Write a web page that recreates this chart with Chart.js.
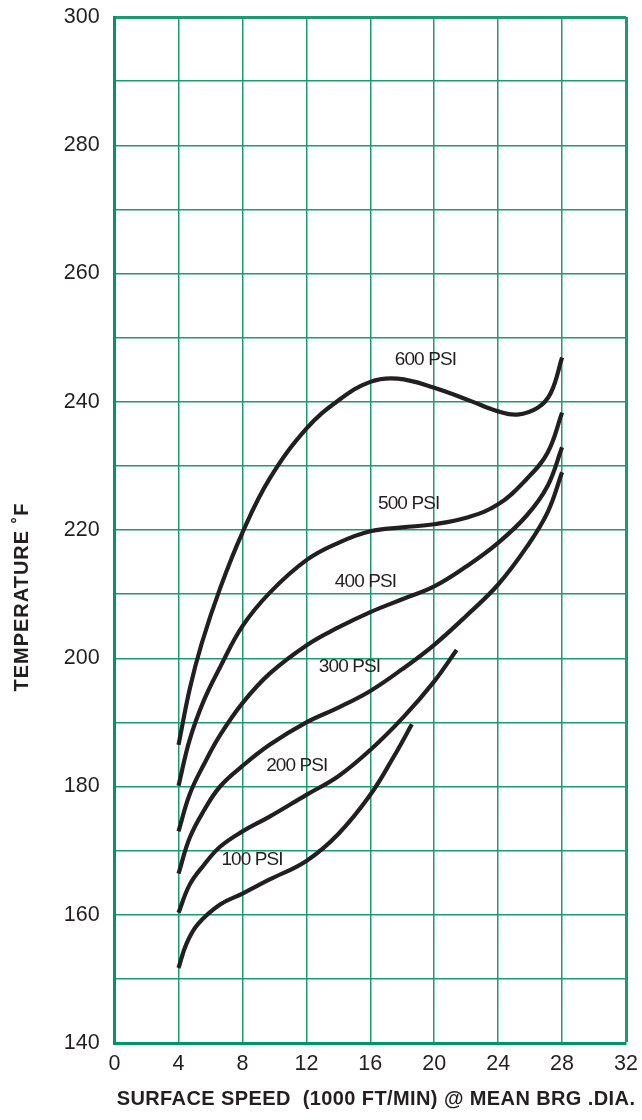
<!DOCTYPE html>
<html>
<head>
<meta charset="utf-8">
<script src="https://cdn.jsdelivr.net/npm/chart.js@4.4.1/dist/chart.umd.min.js"></script>
<style>
  html, body { margin: 0; padding: 0; background: #fff; }
  #wrap { width: 642px; height: 1120px; }
</style>
</head>
<body>
<div id="wrap"><canvas id="myChart" width="642" height="1120"></canvas></div>
<script>
// curve names and where their labels sit (speed, temperature)
const psiNames = ['600 PSI', '500 PSI', '400 PSI', '300 PSI', '200 PSI', '100 PSI']
const labelSpeed = [19.45, 18.4, 15.7, 14.7, 11.4, 8.6]
const labelTemp = [246.6, 224.1, 211.9, 198.7, 183.2, 168.6]

// surface speed (1000 ft/min) vs temperature F
const speed600 = [4, 4.7, 5.45, 6.6, 8, 9.7, 12, 14, 16, 17.7, 20, 22.3, 24, 25.2, 26.5, 27.3, 28]
const temp600 = [186.5, 195.2, 202.3, 210.9, 219.6, 228, 235.8, 240.2, 243.1, 243.6, 242.2, 240.1, 238.5, 238.0, 239.1, 241.4, 246.9]

const speed500 = [4, 4.7, 5.6, 6.6, 8, 9.7, 12, 14, 16, 18, 20, 22, 24, 25.8, 27.1, 28]
const temp500 = [180.1, 187.3, 193.5, 198.6, 205, 210.2, 215.3, 218, 219.8, 220.4, 220.9, 221.9, 224, 228, 232.1, 238.3]

const speed400 = [4, 4.7, 5.6, 6.6, 8, 9.7, 12, 14, 16, 18, 20, 22, 24, 25.8, 27.1, 28]
const temp400 = [173, 178.8, 183.5, 188, 193, 197.6, 202, 204.8, 207.2, 209.2, 211.2, 214.3, 218, 222.3, 226.9, 232.9]

const speed300 = [4, 4.7, 5.6, 6.6, 8, 9.7, 12, 14, 16, 18, 20, 22, 24, 25.8, 27.1, 28]
const temp300 = [166.4, 172, 176.3, 180, 183.2, 186.5, 190, 192.3, 194.9, 198.3, 202.1, 206.6, 211.5, 217.4, 222.8, 229]

const speed200 = [4, 4.7, 5.6, 6.6, 8, 9.7, 12, 14, 16, 18.1, 20, 21.4]
const temp200 = [160.3, 164.7, 167.8, 170.6, 173, 175.3, 178.7, 181.6, 185.7, 190.9, 196.4, 201.3]

const speed100 = [4, 4.5, 5.2, 6.6, 8, 9.7, 12, 14, 16, 17.5, 18.6]
const temp100 = [151.7, 155.5, 158.5, 161.6, 163.3, 165.5, 168.4, 172.6, 178.7, 184.8, 189.7]

const speeds = [speed600, speed500, speed400, speed300, speed200, speed100]
const temps = [temp600, temp500, temp400, temp300, temp200, temp100]

const xTitle = 'SURFACE SPEED  (1000 FT/MIN) @ MEAN BRG .DIA.'
const yTitle = 'TEMPERATURE ˚F'

const verde = '#1a9b70'
const verdeBorde = '#00946a'
const tinta = '#231f20'
const fuente = '"Liberation Sans", Arial, Helvetica, sans-serif'

const $grafica = document.getElementById('myChart')

// labels on the curves plus both axis titles
const textos = {
  id: 'textos',
  afterDatasetsDraw(chart) {
    const ctx = chart.ctx
    const sx = chart.scales.x
    const sy = chart.scales.y
    ctx.save()
    ctx.fillStyle = tinta
    ctx.textAlign = 'center'
    ctx.textBaseline = 'middle'
    ctx.font = '19px ' + fuente
    ctx.letterSpacing = '-0.9px'
    for (let i = 0; i < psiNames.length; i++) {
      ctx.fillText(psiNames[i], sx.getPixelForValue(labelSpeed[i]), sy.getPixelForValue(labelTemp[i]))
    }
    ctx.font = 'bold 20px ' + fuente
    ctx.letterSpacing = '0.4px'
    ctx.fillText(xTitle, 376, 1099)
    ctx.translate(22, 597)
    ctx.rotate(-Math.PI / 2)
    ctx.letterSpacing = '1px'
    ctx.fillText(yTitle, 0, 0)
    ctx.restore()
  }
}

let myChart = new Chart($grafica, {
  type: 'line',
  data: {
    datasets: psiNames.map((nombre, i) => ({
      label: nombre,
      data: speeds[i].map((v, j) => ({ x: v, y: temps[i][j] })),
      borderColor: tinta,
      borderWidth: 4.2,
      pointRadius: 0,
      fill: false,
      tension: 0.4
    }))
  },
  options: {
    responsive: false,
    animation: false,
    devicePixelRatio: 1,
    layout: { padding: { left: 0, right: 16, top: 17, bottom: 0 } },
    plugins: {
      legend: { display: false },
      tooltip: { enabled: false }
    },
    scales: {
      x: {
        type: 'linear',
        min: 0,
        max: 32,
        ticks: {
          stepSize: 4,
          padding: 8,
          color: tinta,
          font: { size: 21.5, family: fuente }
        },
        grid: {
          color: verde,
          lineWidth: c => (c.tick && c.tick.value === 32 ? 3 : 1.5),
          drawTicks: false
        },
        border: { color: verdeBorde, width: 3 },
        afterFit(s) {
          s.height = 77
          s.paddingLeft = 0
          s.paddingRight = 0
        }
      },
      y: {
        min: 140,
        max: 300,
        ticks: {
          stepSize: 10,
          autoSkip: false,
          padding: 15,
          color: tinta,
          font: { size: 21.5, family: fuente },
          callback: v => (v % 20 === 0 ? v : '')
        },
        grid: {
          color: verde,
          lineWidth: c => (c.tick && c.tick.value === 300 ? 3 : 1.5),
          drawTicks: false
        },
        border: { color: verdeBorde, width: 3 },
        afterFit(s) {
          s.width = 114.6
          s.paddingTop = 0
          s.paddingBottom = 0
        }
      }
    }
  },
  plugins: [textos]
})
</script>
</body>
</html>
